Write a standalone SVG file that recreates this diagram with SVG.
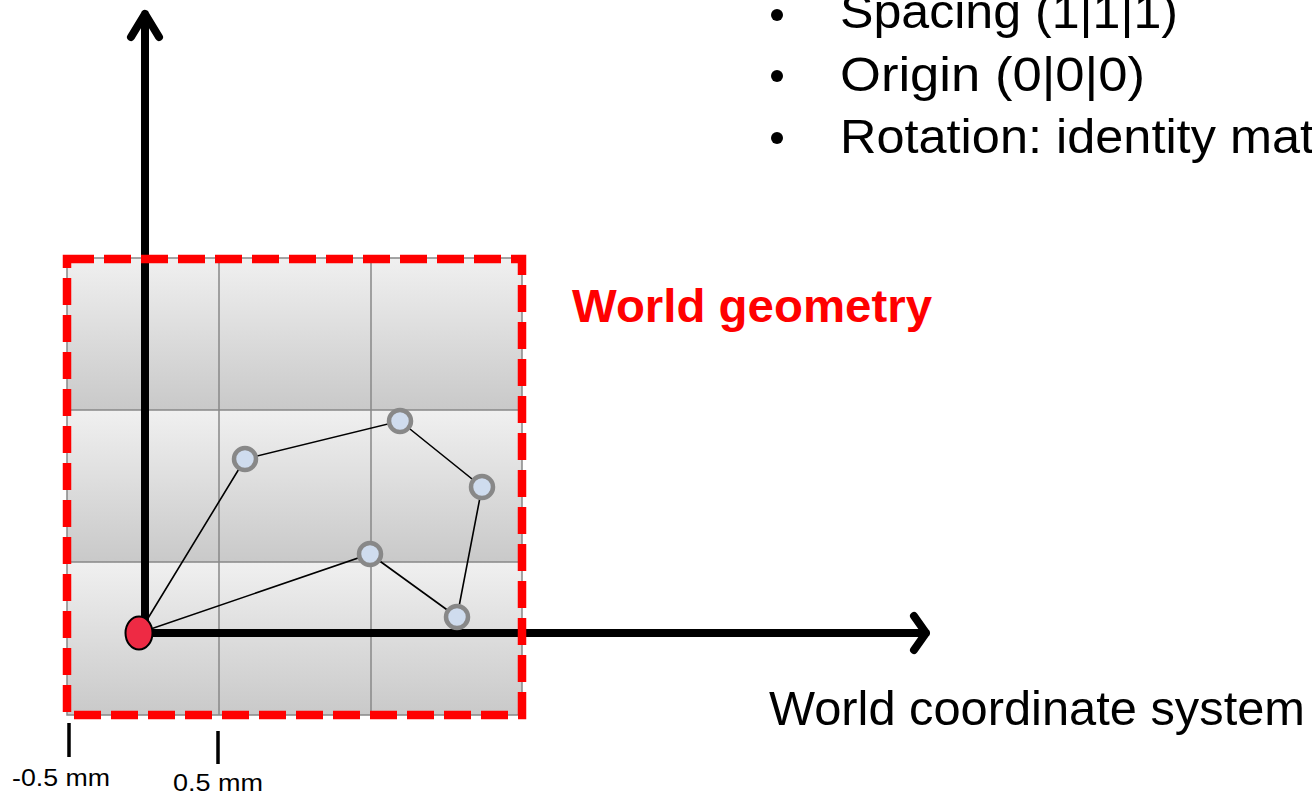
<svg xmlns="http://www.w3.org/2000/svg" width="1312" height="794" viewBox="0 0 1312 794">
<style>
.txt{font-family:"Liberation Sans",Arial,sans-serif;fill:#000}
.cell{fill:url(#rowgrad)}
.grid{stroke:#888;stroke-width:1.5;fill:none}
.axis{stroke:#000;stroke-width:8;fill:none;stroke-linecap:round;stroke-linejoin:round}
.edge{stroke:#000;stroke-width:1.6}
.pt{fill:#cfdcee;stroke:#888;stroke-width:4.5}
.tick{stroke:#000;stroke-width:3.5}
</style>
<defs>
<linearGradient id="rowgrad" x1="0" y1="0" x2="0" y2="1">
<stop offset="0" stop-color="#f0f0f0"/>
<stop offset="1" stop-color="#c9c9c9"/>
</linearGradient>
</defs>
<rect width="1312" height="794" fill="#fff"/>
<g id="grid">
<rect class="cell" x="67" y="258" width="455" height="152"/>
<rect class="cell" x="67" y="410" width="455" height="152"/>
<rect class="cell" x="67" y="562" width="455" height="153"/>
<path class="grid" d="M67 258H522V715H67Z M219 258V715 M371 258V715 M67 410H522 M67 562H522"/>
</g>
<g id="axes">
<path class="axis" d="M145 633V14 M131 37L145 14L159 37"/>
<path class="axis" d="M145 633H926 M914 616L926 633L914 650"/>
</g>
<g id="connectors">
<path class="edge" d="M139 633L245 459L400 421L482 487L457 617L370 554L139 633" fill="none"/>
</g>
<g id="border">
<rect x="67" y="259" width="455" height="456" fill="none" stroke="#ff0000" stroke-width="8.5" stroke-dasharray="27 10"/>
</g>
<g id="origin"><ellipse cx="139" cy="633" rx="13.5" ry="16.5" fill="#ee2a44" stroke="#000" stroke-width="2"/></g>
<g id="p1"><circle class="pt" cx="245" cy="459" r="11"/></g>
<g id="p2"><circle class="pt" cx="400" cy="421" r="11"/></g>
<g id="p3"><circle class="pt" cx="482" cy="487" r="11"/></g>
<g id="p4"><circle class="pt" cx="370" cy="554" r="11"/></g>
<g id="p5"><circle class="pt" cx="457" cy="617" r="11"/></g>
<g id="label-geometry">
<text class="txt" x="572" y="322" font-size="46" font-weight="bold" style="fill:#ff0000" textLength="360" lengthAdjust="spacingAndGlyphs">World geometry</text>
</g>
<g id="bullets">
<circle cx="777" cy="15" r="6"/>
<circle cx="777" cy="76" r="6"/>
<circle cx="777" cy="138" r="6"/>
<text class="txt" x="840" y="28" font-size="48" textLength="338" lengthAdjust="spacingAndGlyphs">Spacing (1|1|1)</text>
<text class="txt" x="840" y="91" font-size="48" textLength="305" lengthAdjust="spacingAndGlyphs">Origin (0|0|0)</text>
<text class="txt" x="840" y="153" font-size="48" textLength="474" lengthAdjust="spacingAndGlyphs">Rotation: identity mat</text>
</g>
<g id="label-world">
<text class="txt" x="769" y="725" font-size="48" textLength="536" lengthAdjust="spacingAndGlyphs">World coordinate system</text>
</g>
<g id="ticks">
<line class="tick" x1="69" y1="723" x2="69" y2="757"/>
<line class="tick" x1="218" y1="731" x2="218" y2="764"/>
<text class="txt" x="12" y="786" font-size="24" textLength="98" lengthAdjust="spacingAndGlyphs">-0.5 mm</text>
<text class="txt" x="173" y="791" font-size="24" textLength="90" lengthAdjust="spacingAndGlyphs">0.5 mm</text>
</g>
</svg>
